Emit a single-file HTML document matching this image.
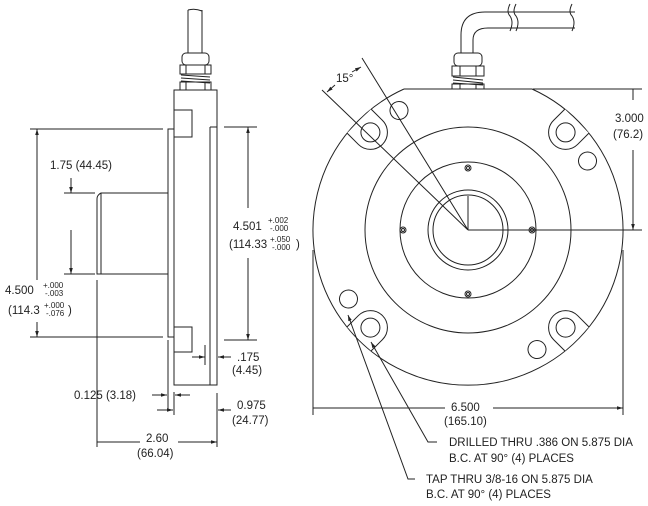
<!DOCTYPE html>
<html><head><style>
body{margin:0;background:#fff}
svg{display:block}
text{font-family:"Liberation Sans",Arial,sans-serif;font-size:11.5px;fill:#222}
.s{font-size:8px}
</style></head><body>
<svg width="648" height="506" viewBox="0 0 648 506" xmlns="http://www.w3.org/2000/svg">
<defs>
<marker id="a" viewBox="0 0 10 10" refX="10" refY="5" markerWidth="6" markerHeight="6" orient="auto-start-reverse"><path d="M0,2 L10,5 L0,8z" fill="#222"/></marker>
<g id="lug"><path d="M451,76 L451,92 A17 17 0 0 0 485,92 L485,76" fill="#fff"/><circle cx="468" cy="92" r="9.5"/></g>
<g id="dh"><circle cx="468" cy="92" r="9"/></g>
</defs>
<g fill="none" stroke="#222" stroke-width="1">
<!-- LEFT VIEW -->
<path d="M188,10 L188,53 M202,10 L202,53"/>
<path d="M188,10 Q195,8 202,11"/>
<rect x="182" y="53" width="27" height="12" rx="4"/>
<rect x="180" y="65" width="31" height="9"/>
<path d="M181,75 L210,77 M181,78 L210,80 M181,81 L210,83"/>
<rect x="180" y="82" width="31" height="8"/>
<path d="M186,65 v9 M205,65 v9 M186,82 v8 M205,82 v8"/>
<rect x="174" y="90" width="43" height="295"/>
<rect x="174" y="110" width="18" height="27"/>
<rect x="174" y="327" width="18" height="25"/>
<path d="M174,129 L168,129 L168,337 L174,337"/>
<path d="M210,127 L210,340 M217,127 L210,127"/>
<path d="M168,193 L101,193 Q97,195 97,199 L97,274 L168,274"/>
<path d="M101,193 L101,274"/>
<path d="M210,340 L210,385"/>
<!-- 4.500 -->
<path d="M30,129 L163,129 M30,337 L163,337"/>
<path d="M37,129 L37,280 M37,322 L37,337" marker-start="url(#a)" marker-end="url(#a)"/>
<!-- 4.501 -->
<path d="M224,127 L257,127 M224,340 L257,340"/>
<path d="M248,127 L248,208 M248,258 L248,340" marker-start="url(#a)" marker-end="url(#a)"/>
<!-- 1.75 -->
<path d="M64,193 L95,193 M64,274 L95,274"/>
<path d="M71,178 L71,193" marker-end="url(#a)"/>
<path d="M71,230 L71,274" marker-end="url(#a)"/>
<!-- .175 -->
<path d="M192,357 L205,357" marker-end="url(#a)"/>
<path d="M231,357 L218,357" marker-end="url(#a)"/>
<path d="M205,345 L205,365 M217,345 L217,365"/>
<!-- 0.125 -->
<path d="M152,395 L167,395" marker-end="url(#a)"/>
<path d="M190,395 L175,395" marker-end="url(#a)"/>
<path d="M157,410 L173,410" marker-end="url(#a)"/>
<path d="M168,340 L168,410 M174,392 L174,415"/>
<path d="M231,410 L218,410" marker-end="url(#a)"/>
<path d="M217,393 L217,447"/>
<!-- 2.60 -->
<path d="M97,280 L97,447"/>
<path d="M140,442 L97,442 M178,442 L217,442" marker-end="url(#a)"/>
<!-- RIGHT VIEW -->
<path d="M461,53 L461,35 Q461,12 485,12 L575,12 M473,53 L473,40 Q473,28 488,28 L575,28"/>
<path d="M510,4 q-4,8 0,12 q4,6 0,15 M516,4 q-4,8 0,12 q4,6 0,15 M572,4 q-4,8 0,12 q4,6 0,15"/>
<rect x="454" y="53" width="28" height="13" rx="4"/>
<rect x="452" y="66" width="32" height="10"/>
<path d="M453,77 L483,80 M453,80 L483,83 M453,83 L483,85"/>
<rect x="452" y="84" width="32" height="5"/>
<path d="M460,66 v10 M476,66 v10 M460,84 v5 M476,84 v5"/>
<path d="M404,89 L532,89 A155 155 0 1 1 404,89"/>
<circle cx="468" cy="230" r="103"/>
<circle cx="468" cy="230" r="68"/>
<circle cx="468" cy="230" r="40"/>
<circle cx="468" cy="230" r="35"/>
<circle cx="468" cy="168" r="3"/><circle cx="403" cy="230" r="3"/><circle cx="532" cy="230" r="3"/><circle cx="468" cy="294" r="3"/>
<circle cx="468" cy="168" r="1.5"/><circle cx="403" cy="230" r="1.5"/><circle cx="532" cy="230" r="1.5"/><circle cx="468" cy="294" r="1.5"/>
<use href="#lug" transform="rotate(-45 468 230)"/>
<use href="#lug" transform="rotate(45 468 230)"/>
<use href="#lug" transform="rotate(135 468 230)"/>
<use href="#lug" transform="rotate(225 468 230)"/>
<use href="#dh" transform="rotate(-30 468 230)"/>
<use href="#dh" transform="rotate(60 468 230)"/>
<use href="#dh" transform="rotate(150 468 230)"/>
<use href="#dh" transform="rotate(240 468 230)"/>
<path d="M468,230 L468,196 M468,230 L642,230 M533,89 L642,89"/>
<path d="M468,230 L362,58 M468,230 L322,90"/>
<path d="M633,100 L633,89 M633,150 L633,230" marker-end="url(#a)"/>
<path d="M335,85 L327,92" marker-end="url(#a)"/>
<path d="M352,72 L361,67" marker-end="url(#a)"/>
<path d="M313,250 L313,415 M623,250 L623,415"/>
<path d="M445,408 L313,408 M493,408 L623,408" marker-end="url(#a)"/>
<path d="M415,479 L408,479 L348,315" marker-end="url(#a)"/>
<path d="M437,442 L428,442 L371,342" marker-end="url(#a)"/>
</g>
<text x="50" y="169">1.75 (44.45)</text>
<text x="5" y="294">4.500</text><text class="s" x="43" y="288">+.000</text><text class="s" x="45" y="296">-.003</text>
<text x="8" y="314">(114.3</text><text class="s" x="44" y="308">+.000</text><text class="s" x="46" y="316">-.076</text><text x="68" y="314">)</text>
<text x="233" y="230">4.501</text><text class="s" x="268" y="223">+.002</text><text class="s" x="270" y="231">-.000</text>
<text x="229" y="248">(114.33</text><text class="s" x="270" y="242">+.050</text><text class="s" x="272" y="250">-.000</text><text x="296" y="248">)</text>
<text x="237" y="361">.175</text><text x="232" y="374">(4.45)</text>
<text x="74" y="399">0.125 (3.18)</text>
<text x="237" y="409">0.975</text><text x="232" y="424">(24.77)</text>
<text x="146" y="442">2.60</text><text x="137" y="457">(66.04)</text>
<text x="336" y="82">15°</text>
<text x="615" y="122">3.000</text><text x="613" y="138">(76.2)</text>
<text x="451" y="411">6.500</text><text x="444" y="425">(165.10)</text>
<text x="449" y="446">DRILLED THRU .386 ON 5.875 DIA</text>
<text x="449" y="462">B.C. AT 90° (4) PLACES</text>
<text x="426" y="483">TAP THRU 3/8-16 ON 5.875 DIA</text>
<text x="426" y="498">B.C. AT 90° (4) PLACES</text>
</svg>
</body></html>
